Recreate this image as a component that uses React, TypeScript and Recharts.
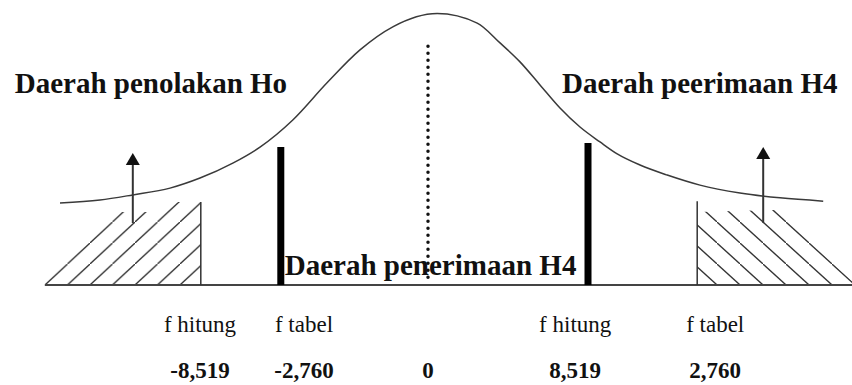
import React from 'react';
import { ComposedChart, Line, Area, XAxis, YAxis, ReferenceLine, ReferenceDot } from 'recharts';

// diagram units: x = test statistic axis (0 at the dotted centre line), y = curve height (peak = 1)
const X_DOMAIN = [-10.7, 10.6];
const Y_DOMAIN = [0, 1.05];

// bell curve
const CURVE_X = [-9.2, -8.2, -7.38, -6.45, -5.7, -4.88, -4.2, -3.38, -2.53, -1.7, -0.88, 0.23, 1.23, 1.8, 2.3, 2.8, 3.3, 3.8, 4.3, 4.73, 5.3, 5.98, 6.8, 7.8, 8.8, 9.88];
const CURVE_Y = [0.302, 0.313, 0.332, 0.357, 0.394, 0.449, 0.508, 0.608, 0.744, 0.866, 0.951, 1.0, 0.965, 0.892, 0.822, 0.737, 0.652, 0.582, 0.527, 0.483, 0.442, 0.405, 0.368, 0.339, 0.321, 0.309];

// hatched regions (outline of the hatching)
const LEFT_REGION_X = [-9.65, -7.67, -6.95, -6.25, -5.68];
const LEFT_REGION_Y = [0, 0.269, 0.269, 0.306, 0.306];
const RIGHT_REGION_X = [6.73, 8.68, 10.6];
const RIGHT_REGION_Y = [0.269, 0.276, 0.015];

// thin edges of the hatched regions
const EDGE_X = [-5.68, 6.73];
const EDGE_TOP = [0.306, 0.309];

// thick critical bars
const BAR_X = [-3.68, 4.0];
const BAR_TOP = [0.508, 0.523];

// arrows
const ARROW_X = [-7.38, 8.38];
const ARROW_FROM = [0.228, 0.228];
const ARROW_TO = [0.486, 0.508];

// baseline and dotted centre line
const BASE_RANGE = [-9.58, 10.6];
const CENTER_X = 0;
const CENTER_RANGE = [0.029, 0.884];

// bottom labels
const TICK_X = [-5.7, -3.1, 0, 3.68, 7.18];
const TICK_ROLE = ['f hitung', 'f tabel', '', 'f hitung', 'f tabel'];
const TICK_VALUE = ['-8,519', '-2,760', '0', '8,519', '2,760'];

// region titles
const TITLES = ['Daerah penolakan Ho', 'Daerah peerimaan H4', 'Daerah penerimaan H4'];
const TITLE_X = [-10.33, 3.35, -3.58];
const TITLE_Y = [0.707, 0.707, 0.037];

const FONT = 'Liberation Serif, Times New Roman, serif';

const curveData = CURVE_X.map((x, i) => ({ x, y: CURVE_Y[i] }));
const leftRegion = LEFT_REGION_X.map((x, i) => ({ x, y: LEFT_REGION_Y[i] }));
const rightRegion = RIGHT_REGION_X.map((x, i) => ({ x, y: RIGHT_REGION_Y[i] }));

const BottomTick = (props: any) => {
  const { x, y, payload } = props;
  const i = TICK_X.indexOf(payload.value);
  return (
    <g>
      <text x={x} y={y + 47} textAnchor="middle" style={{ fontFamily: FONT }} fontSize={23} fill="#111">
        {TICK_ROLE[i]}
      </text>
      <text x={x} y={y + 93} textAnchor="middle" style={{ fontFamily: FONT }} fontSize={23} fontWeight="bold" fill="#111">
        {TICK_VALUE[i]}
      </text>
    </g>
  );
};

const Arrow = (p: any) => {
  const { x1, y1, x2, y2 } = p;
  return (
    <g>
      <line x1={x1} y1={y1} x2={x2} y2={y2 + 10} stroke="#333" strokeWidth={2} />
      <polygon points={`${x2},${y2} ${x2 - 7},${y2 + 12} ${x2 + 7},${y2 + 12}`} fill="#111" />
    </g>
  );
};

export default function App() {
  return (
    <div style={{ position: 'fixed', left: 0, top: 0, background: '#fff' }}>
      <ComposedChart width={852} height={385} margin={{ top: 0, right: 0, bottom: 0, left: 0 }}>
        <defs>
          <pattern id="hatchL" patternUnits="userSpaceOnUse" x={0} y={12} width={22.5} height={21}>
            <line x1={-1} y1={21.93} x2={23.5} y2={-0.93} stroke="#333" strokeWidth={1.3} />
          </pattern>
          <pattern id="hatchR" patternUnits="userSpaceOnUse" x={4} y={12} width={23} height={21}>
            <line x1={-1} y1={-0.91} x2={24} y2={21.91} stroke="#333" strokeWidth={1.3} />
          </pattern>
        </defs>
        <XAxis
          type="number"
          dataKey="x"
          domain={X_DOMAIN}
          allowDataOverflow
          ticks={TICK_X}
          interval={0}
          axisLine={false}
          tickLine={false}
          tickSize={0}
          tickMargin={0}
          height={100}
          tick={<BottomTick />}
        />
        <YAxis hide type="number" domain={Y_DOMAIN} allowDataOverflow />

        <Area data={leftRegion} dataKey="y" type="linear" stroke="none" fill="url(#hatchL)" fillOpacity={1} dot={false} activeDot={false} isAnimationActive={false} />
        <Area data={rightRegion} dataKey="y" type="linear" stroke="none" fill="url(#hatchR)" fillOpacity={1} dot={false} activeDot={false} isAnimationActive={false} />

        <ReferenceLine
          segment={[{ x: BASE_RANGE[0], y: 0 }, { x: BASE_RANGE[1], y: 0 }]}
          stroke="#444"
          strokeWidth={2}
          ifOverflow="visible"
        />
        {EDGE_X.map((x, i) => (
          <ReferenceLine key={`edge-${i}`} segment={[{ x, y: 0 }, { x, y: EDGE_TOP[i] }]} stroke="#333" strokeWidth={1.5} ifOverflow="visible" />
        ))}
        {BAR_X.map((x, i) => (
          <ReferenceLine key={`bar-${i}`} segment={[{ x, y: 0 }, { x, y: BAR_TOP[i] }]} stroke="#000" strokeWidth={7} ifOverflow="visible" />
        ))}
        {ARROW_X.map((x, i) => (
          <ReferenceLine
            key={`arrow-${i}`}
            segment={[{ x, y: ARROW_FROM[i] }, { x, y: ARROW_TO[i] }]}
            ifOverflow="visible"
            shape={(p: any) => <Arrow {...p} />}
          />
        ))}

        <Line data={curveData} dataKey="y" type="monotone" stroke="#3a3a3a" strokeWidth={1.5} dot={false} activeDot={false} isAnimationActive={false} />

        {TITLES.map((t, i) => (
          <ReferenceDot
            key={`title-${i}`}
            x={TITLE_X[i]}
            y={TITLE_Y[i]}
            r={0}
            ifOverflow="visible"
            shape={(p: any) => (
              <text x={p.cx} y={p.cy} style={{ fontFamily: FONT }} fontSize={29} fontWeight="bold" fill="#111">
                {t}
              </text>
            )}
          />
        ))}

        <ReferenceLine
          segment={[{ x: CENTER_X, y: CENTER_RANGE[0] }, { x: CENTER_X, y: CENTER_RANGE[1] }]}
          stroke="#111"
          strokeWidth={3.5}
          strokeDasharray="0 7"
          strokeLinecap="round"
          ifOverflow="visible"
        />
      </ComposedChart>
    </div>
  );
}
